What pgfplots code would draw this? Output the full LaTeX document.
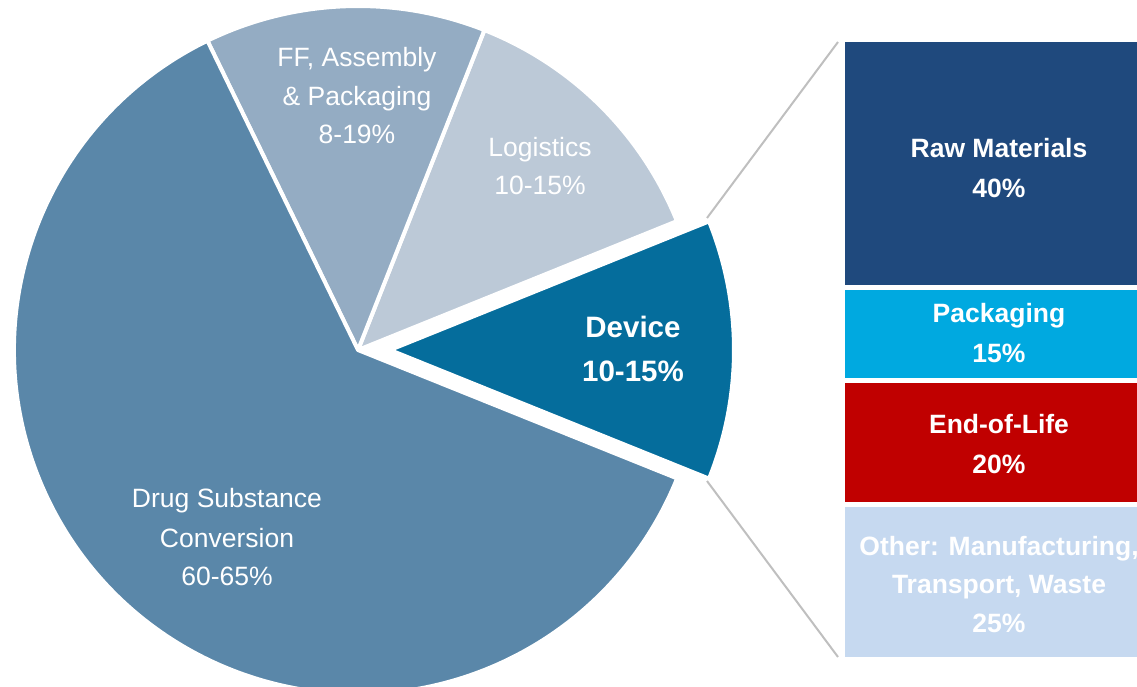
\documentclass[border=0pt]{standalone}
\usepackage{fontspec}
\setmainfont{Liberation Sans}
\usepackage{pgfplots}
\pgfplotsset{compat=1.18}
\definecolor{drugc}{HTML}{5A87A9}
\definecolor{ffc}{HTML}{94ACC3}
\definecolor{logc}{HTML}{BCC9D7}
\definecolor{devc}{HTML}{056D9C}
\definecolor{rawc}{HTML}{1F497D}
\definecolor{packc}{HTML}{00A9E0}
\definecolor{eolc}{HTML}{C00000}
\definecolor{othc}{HTML}{C6D9F0}
\definecolor{linec}{HTML}{BFBFBF}
\begin{document}
\begin{tikzpicture}
\useasboundingbox (0,0) rectangle (1137bp,687bp);
\clip (0,0) rectangle (1137bp,687bp);
% ---------- stacked bar: Device breakdown ----------
\begin{axis}[
  at={(842.5bp,647.5bp)}, anchor=north west,
  scale only axis, width=313bp, height=620bp,
  xmin=0, xmax=1, ymin=0, ymax=100, y dir=reverse,
  hide axis, ybar stacked, bar width=313bp, bar shift=0pt,
  every axis plot/.append style={draw=white, line width=5bp}]
\addplot[fill=rawc]  coordinates {(0.5,40)};
\addplot[fill=packc] coordinates {(0.5,15)};
\addplot[fill=eolc]  coordinates {(0.5,20)};
\addplot[fill=othc]  coordinates {(0.5,25)};
\end{axis}
% ---------- pie (pixel coordinates, y downwards) ----------
% shares (%): Device 12.2, Logistics 12.9, FF/Assembly/Packaging 13.2, Drug Substance 61.7
\begin{axis}[
  at={(0,0)}, anchor=south west,
  scale only axis, width=1137bp, height=687bp,
  xmin=0, xmax=1137, ymin=0, ymax=687, y dir=reverse,
  hide axis, clip=false]
\addplot[draw=none] coordinates {(0,0) (1137,687)};
\tikzset{slice/.style={draw=white, line width=4bp, line join=round}}
% Logistics
\fill[logc, slice] (axis cs:358,350) -- ++({22}:344bp)
  arc[start angle={22}, end angle={22+3.6*12.9}, radius=344bp] -- cycle;
% FF, Assembly & Packaging
\fill[ffc, slice] (axis cs:358,350) -- ++({22+3.6*12.9}:344bp)
  arc[start angle={22+3.6*12.9}, end angle={22+3.6*(12.9+13.2)}, radius=344bp] -- cycle;
% Drug Substance Conversion
\fill[drugc, slice] (axis cs:358,350) -- ++({22+3.6*(12.9+13.2)}:344bp)
  arc[start angle={22+3.6*(12.9+13.2)}, end angle={22+3.6*(12.9+13.2+61.7)}, radius=344bp] -- cycle;
% Device (exploded)
\fill[devc, slice] (axis cs:390,350) -- ++({-3.6*12.2/2}:344bp)
  arc[start angle={-3.6*12.2/2}, end angle={3.6*12.2/2}, radius=344bp] -- cycle;
% connector lines
\draw[linec, line width=2bp] (axis cs:707,218) -- (axis cs:838,42);
\draw[linec, line width=2bp] (axis cs:707,481) -- (axis cs:838,657);
% labels
\tikzset{lab/.style={anchor=base, text=white, inner sep=0pt, font=\fontsize{26.5bp}{39bp}\selectfont}}
\node[lab] at (axis cs:357,67) {FF, Assembly};
\node[lab] at (axis cs:357,106) {\& Packaging};
\node[lab] at (axis cs:357,144) {8-19\%};
\node[lab] at (axis cs:540,156) {Logistics};
\node[lab] at (axis cs:540,194) {10-15\%};
\node[lab] at (axis cs:227,507) {Drug Substance};
\node[lab] at (axis cs:227,547) {Conversion};
\node[lab] at (axis cs:227,585) {60-65\%};
\tikzset{devlab/.style={anchor=base, text=white, inner sep=0pt, font=\fontsize{29.5bp}{43bp}\selectfont\bfseries}}
\node[devlab] at (axis cs:633,337) {Device};
\node[devlab] at (axis cs:633,381) {10-15\%};
\tikzset{blab/.style={anchor=base, text=white, inner sep=0pt, font=\fontsize{26.5bp}{38bp}\selectfont\bfseries}}
\node[blab] at (axis cs:999,157) {Raw Materials};
\node[blab] at (axis cs:999,197) {40\%};
\node[blab] at (axis cs:999,322) {Packaging};
\node[blab] at (axis cs:999,362) {15\%};
\node[blab] at (axis cs:999,433) {End-of-Life};
\node[blab] at (axis cs:999,473) {20\%};
\node[blab] at (axis cs:999,555) {Other: Manufacturing,};
\node[blab] at (axis cs:999,593) {Transport, Waste};
\node[blab] at (axis cs:999,632) {25\%};
\end{axis}
\end{tikzpicture}
\end{document}
